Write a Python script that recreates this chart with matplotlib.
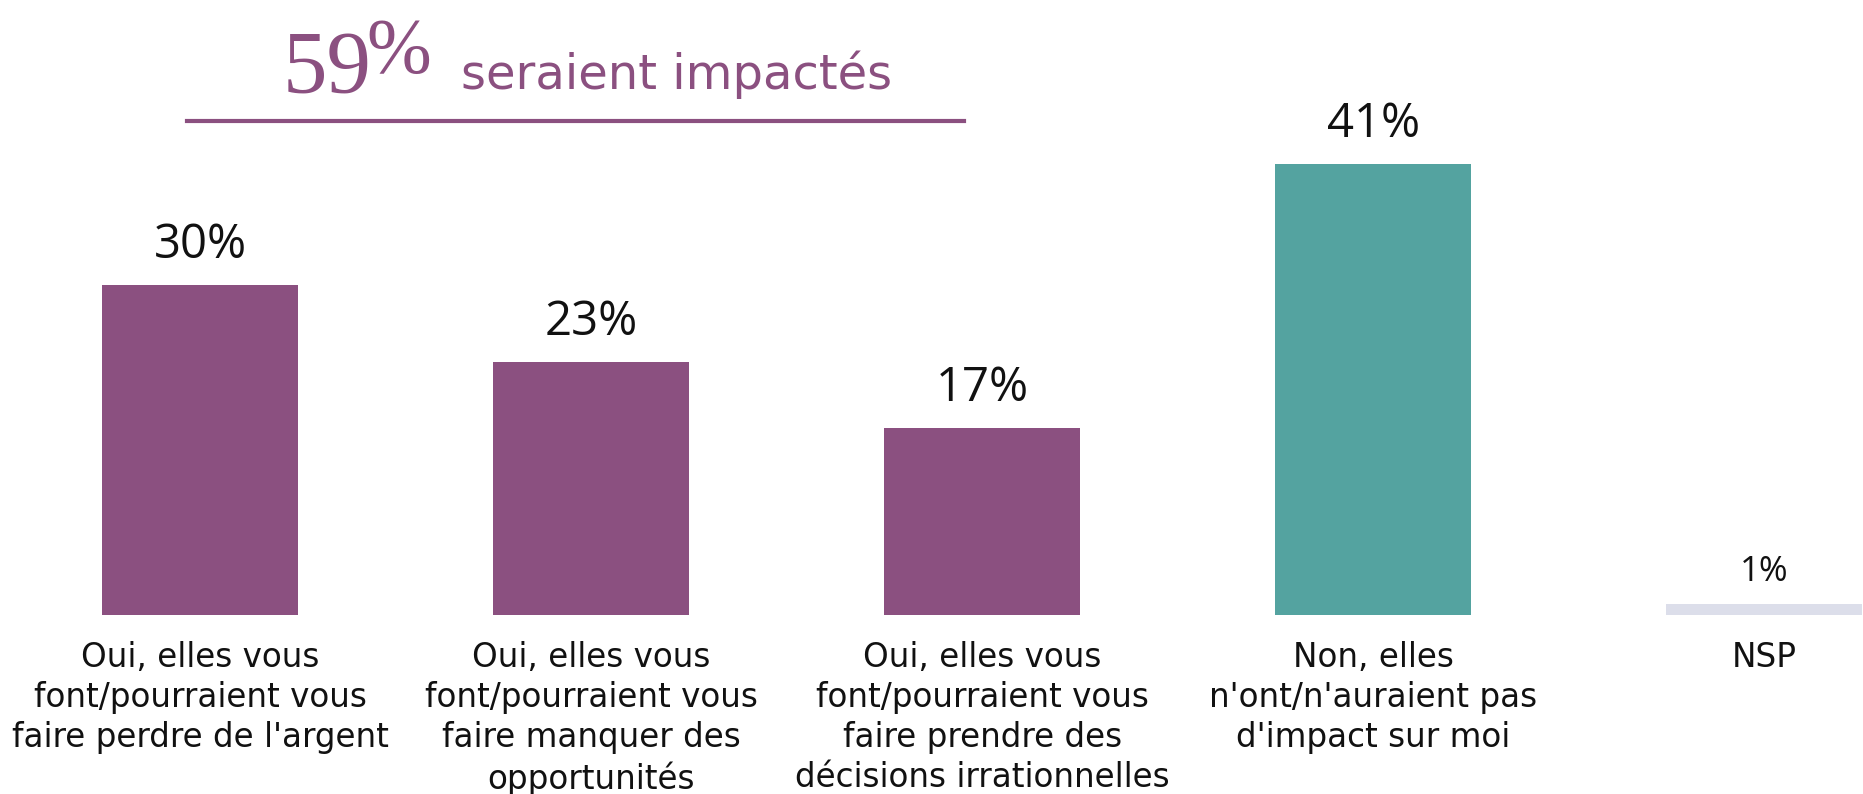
import matplotlib
matplotlib.use("Agg")
import matplotlib.pyplot as plt
import matplotlib.transforms as mtrans
from matplotlib.lines import Line2D

categories = [
    "Oui, elles vous\nfont/pourraient vous\nfaire perdre de l'argent",
    "Oui, elles vous\nfont/pourraient vous\nfaire manquer des\nopportunités",
    "Oui, elles vous\nfont/pourraient vous\nfaire prendre des\ndécisions irrationnelles",
    "Non, elles\nn'ont/n'auraient pas\nd'impact sur moi",
    "NSP",
]
values = [30, 23, 17, 41, 1]
value_labels = ["30%", "23%", "17%", "41%", "1%"]
colors = ["#8B5080", "#8B5080", "#8B5080", "#54A3A0", "#DCDEEA"]
title_number = "59"
title_pct = "%"
title_text = "seraient impactés"

W, H = 1863, 794
fig = plt.figure(figsize=(W / 100, H / 100), dpi=100)
FONT = "Open Sans"
LFONT = "DejaVu Sans"

def fx(x):
    return x / W

def fy(y):
    return 1 - y / H

base_px = 615
px_per_unit = 11.0
ax = fig.add_axes([0, fy(base_px), 1, base_px / H])
ax.set_ylim(0, base_px / px_per_unit)
ax.set_xlim(-0.512, 4.253)
ax.axis("off")

xs = list(range(len(values)))
ax.bar(xs, values, width=0.5, color=colors)

for i, (v, lab) in enumerate(zip(values, value_labels)):
    if i == len(values) - 1:
        ax.annotate(lab, (i, v), xytext=(0, 16.5), textcoords="offset points",
                    ha="center", va="baseline", fontsize=25, family=FONT, color="#111111")
    else:
        ax.annotate(lab, (i, v), xytext=(0, 19.5), textcoords="offset points",
                    ha="center", va="baseline", fontsize=34, family=FONT, color="#111111")

trans = mtrans.blended_transform_factory(ax.transData, fig.transFigure)
for i, c in enumerate(categories):
    ax.text(i, fy(641), c, transform=trans, ha="center", va="top",
            fontsize=23.5, family=LFONT, color="#111111", linespacing=1.27)

# Title
fig.text(fx(283), fy(92), title_number, family="Liberation Serif", fontsize=64,
         color="#8B5080", ha="left", va="baseline")
fig.text(fx(366), fy(72), title_pct, family="Liberation Serif", fontsize=56,
         color="#8B5080", ha="left", va="baseline")
fig.text(fx(461), fy(89), title_text, family=LFONT, fontsize=34.6,
         color="#8B5080", ha="left", va="baseline")
fig.add_artist(Line2D([fx(187), fx(964)], [fy(121), fy(121)], color="#8B5080", lw=3,
                      transform=fig.transFigure))

fig.savefig("out.png", dpi=100, facecolor="white")
